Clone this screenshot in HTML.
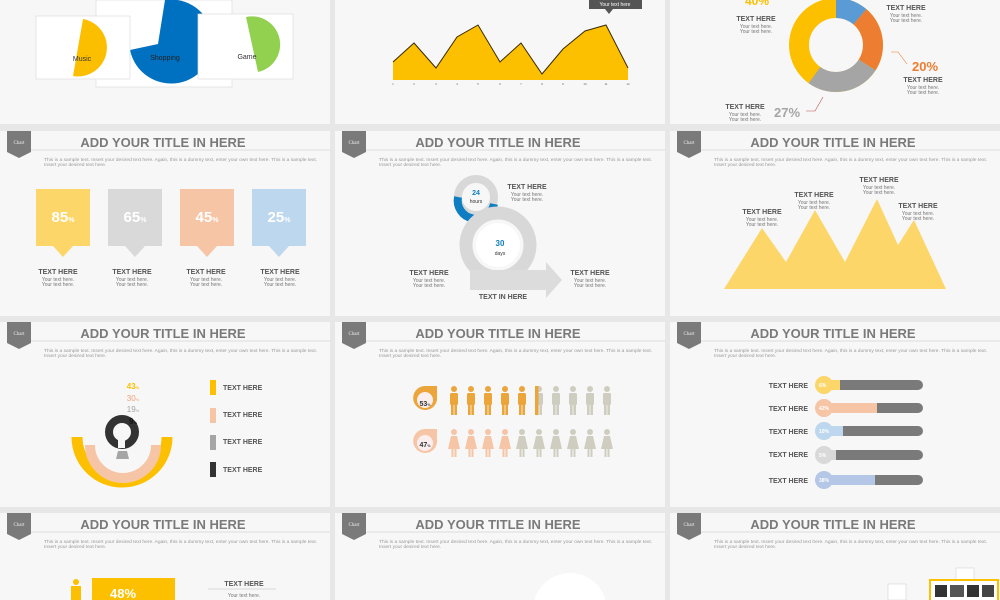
<!DOCTYPE html>
<html><head><meta charset="utf-8"><style>
html,body{margin:0;padding:0;background:#e7e7e7;overflow:hidden;width:1000px;height:600px}
svg{display:block;font-family:"Liberation Sans",sans-serif}
.t{font-size:13px;font-weight:bold;fill:#7a7a7a;text-anchor:middle}
.s{font-size:4.9px;fill:#999}
.h{font-size:7px;font-weight:bold;fill:#555;text-anchor:middle}
.y{font-size:5px;fill:#777;text-anchor:middle}
.b{font-size:5px;fill:#eee;font-family:"Liberation Serif",serif}
</style></head><body>
<svg width="1000" height="600" viewBox="0 0 1000 600">
<defs>
<g id="hdr">
 <rect x="0" y="0" width="330" height="185" fill="#f7f7f7"/>
 <path d="M7 0h24v21l-12 6l-12-6z" fill="#7a7a7a"/>
 <line x1="31" y1="19" x2="330" y2="19" stroke="#d4d4d4" stroke-width="0.8"/>
</g>
<g id="man"><circle cx="0" cy="-11" r="3" /><rect x="-4" y="-7" width="8" height="12" rx="1.5"/><rect x="-3" y="4" width="2.6" height="11"/><rect x="0.4" y="4" width="2.6" height="11"/></g>
<g id="wom"><circle cx="0" cy="-11" r="3"/><path d="M-3-7h6l3 13h-12z"/><rect x="-2.5" y="5" width="2" height="9"/><rect x="0.5" y="5" width="2" height="9"/></g>
</defs>
<rect x="0" y="0" width="330" height="124" fill="#f7f7f7"/>
<rect x="335" y="0" width="330" height="124" fill="#f7f7f7"/>
<rect x="670" y="0" width="330" height="124" fill="#f7f7f7"/>
<rect x="96" y="0" width="136" height="87" fill="#fff" stroke="#ddd" stroke-width="0.7"/>
<path d="M165 0A42 42 0 1 1 130 50L158 44L165 0z" fill="#0070c0"/>
<rect x="36" y="16" width="94" height="63" fill="#fff" stroke="#ddd" stroke-width="0.7"/>
<path d="M83 19A28 28 0 0 1 73 76L83 19z" fill="#fbbf00"/>
<text x="82" y="61" font-size="7" fill="#333" text-anchor="middle">Music</text>
<text x="165" y="60" font-size="7" fill="#222" text-anchor="middle">Shopping</text>
<rect x="198" y="14" width="95" height="65" fill="#fff" stroke="#ddd" stroke-width="0.7"/>
<path d="M246 17A26 26 0 0 1 258 72L246 17z" fill="#92d050"/>
<text x="247" y="59" font-size="7" fill="#333" text-anchor="middle">Game</text>
<polygon points="393,80 393,62 414,43 436,68 457,37 478,25 500,62 521,43 542,74 563,49 585,31 606,25 628,68 628,80" fill="#fdc000"/>
<polyline points="393,62 414,43 436,68 457,37 478,25 500,62 521,43 542,74 563,49 585,31 606,25 628,68" fill="none" stroke="#3a2a00" stroke-width="1"/>
<g font-size="3" fill="#666" text-anchor="middle"><text x="393" y="85">1</text><text x="414" y="85">2</text><text x="436" y="85">3</text><text x="457" y="85">4</text><text x="478" y="85">5</text><text x="500" y="85">6</text><text x="521" y="85">7</text><text x="542" y="85">8</text><text x="563" y="85">9</text><text x="585" y="85">10</text><text x="606" y="85">11</text><text x="628" y="85">12</text></g>
<rect x="589" y="0" width="53" height="9" fill="#555"/><path d="M605 9h8l-4 5z" fill="#555"/>
<text x="615" y="6" font-size="5" fill="#fff" text-anchor="middle">Your text here</text>
<g transform="rotate(-90 836 45)" fill="none" stroke-width="20">
<circle cx="836" cy="45" r="37" stroke="#fdc000"/>
<circle cx="836" cy="45" r="37" stroke="#5b9bd5" stroke-dasharray="26 300"/>
<circle cx="836" cy="45" r="37" stroke="#ed7d31" stroke-dasharray="0 26 53 300"/>
<circle cx="836" cy="45" r="37" stroke="#a5a5a5" stroke-dasharray="0 79 60 300"/>
</g>
<text x="757" y="5" font-size="12" font-weight="bold" fill="#fdc000" text-anchor="middle">40%</text>
<text x="756" y="21" class="h">TEXT HERE</text><text x="756" y="28" class="y">Your text here.</text><text x="756" y="33" class="y">Your text here.</text>
<text x="906" y="10" class="h">TEXT HERE</text><text x="906" y="17" class="y">Your text here.</text><text x="906" y="22" class="y">Your text here.</text>
<polyline points="891,52 898,52 907,64" fill="none" stroke="#ed7d31" stroke-width="0.6"/>
<text x="925" y="71" font-size="13" font-weight="bold" fill="#ed7d31" text-anchor="middle">20%</text>
<text x="923" y="82" class="h">TEXT HERE</text><text x="923" y="89" class="y">Your text here.</text><text x="923" y="94" class="y">Your text here.</text>
<polyline points="806,111 815,111 823,97" fill="none" stroke="#c0504d" stroke-width="0.6"/>
<text x="787" y="117" font-size="13" font-weight="bold" fill="#a5a5a5" text-anchor="middle">27%</text>
<text x="745" y="109" class="h">TEXT HERE</text><text x="745" y="116" class="y">Your text here.</text><text x="745" y="121" class="y">Your text here.</text>

<g transform="translate(0,131)"><use href="#hdr"/></g>
<g transform="translate(335,131)"><use href="#hdr"/></g>
<g transform="translate(670,131)"><use href="#hdr"/></g>
<g transform="translate(0,322)"><use href="#hdr"/></g>
<g transform="translate(335,322)"><use href="#hdr"/></g>
<g transform="translate(670,322)"><use href="#hdr"/></g>
<g transform="translate(0,513)"><use href="#hdr"/></g>
<g transform="translate(335,513)"><use href="#hdr"/></g>
<g transform="translate(670,513)"><use href="#hdr"/></g>

<g>
<text x="19" y="144" class="b" text-anchor="middle">Chart</text>
<text x="163" y="147" class="t">ADD YOUR TITLE IN HERE</text>
<text x="44" y="161" class="s">This is a sample text. Insert your desired text here. Again, this is a dummy text, enter your own text here. This is a sample text.</text>
<text x="44" y="166" class="s">Insert your desired text here.</text>
</g>
<g transform="translate(335,0)">
<text x="19" y="144" class="b" text-anchor="middle">Chart</text>
<text x="163" y="147" class="t">ADD YOUR TITLE IN HERE</text>
<text x="44" y="161" class="s">This is a sample text. Insert your desired text here. Again, this is a dummy text, enter your own text here. This is a sample text.</text>
<text x="44" y="166" class="s">Insert your desired text here.</text>
</g>
<g transform="translate(670,0)">
<text x="19" y="144" class="b" text-anchor="middle">Chart</text>
<text x="163" y="147" class="t">ADD YOUR TITLE IN HERE</text>
<text x="44" y="161" class="s">This is a sample text. Insert your desired text here. Again, this is a dummy text, enter your own text here. This is a sample text.</text>
<text x="44" y="166" class="s">Insert your desired text here.</text>
</g>
<g transform="translate(0,191)">
<text x="19" y="144" class="b" text-anchor="middle">Chart</text>
<text x="163" y="147" class="t">ADD YOUR TITLE IN HERE</text>
<text x="44" y="161" class="s">This is a sample text. Insert your desired text here. Again, this is a dummy text, enter your own text here. This is a sample text.</text>
<text x="44" y="166" class="s">Insert your desired text here.</text>
</g>
<g transform="translate(335,191)">
<text x="19" y="144" class="b" text-anchor="middle">Chart</text>
<text x="163" y="147" class="t">ADD YOUR TITLE IN HERE</text>
<text x="44" y="161" class="s">This is a sample text. Insert your desired text here. Again, this is a dummy text, enter your own text here. This is a sample text.</text>
<text x="44" y="166" class="s">Insert your desired text here.</text>
</g>
<g transform="translate(670,191)">
<text x="19" y="144" class="b" text-anchor="middle">Chart</text>
<text x="163" y="147" class="t">ADD YOUR TITLE IN HERE</text>
<text x="44" y="161" class="s">This is a sample text. Insert your desired text here. Again, this is a dummy text, enter your own text here. This is a sample text.</text>
<text x="44" y="166" class="s">Insert your desired text here.</text>
</g>
<g transform="translate(0,382)">
<text x="19" y="144" class="b" text-anchor="middle">Chart</text>
<text x="163" y="147" class="t">ADD YOUR TITLE IN HERE</text>
<text x="44" y="161" class="s">This is a sample text. Insert your desired text here. Again, this is a dummy text, enter your own text here. This is a sample text.</text>
<text x="44" y="166" class="s">Insert your desired text here.</text>
</g>
<g transform="translate(335,382)">
<text x="19" y="144" class="b" text-anchor="middle">Chart</text>
<text x="163" y="147" class="t">ADD YOUR TITLE IN HERE</text>
<text x="44" y="161" class="s">This is a sample text. Insert your desired text here. Again, this is a dummy text, enter your own text here. This is a sample text.</text>
<text x="44" y="166" class="s">Insert your desired text here.</text>
</g>
<g transform="translate(670,382)">
<text x="19" y="144" class="b" text-anchor="middle">Chart</text>
<text x="163" y="147" class="t">ADD YOUR TITLE IN HERE</text>
<text x="44" y="161" class="s">This is a sample text. Insert your desired text here. Again, this is a dummy text, enter your own text here. This is a sample text.</text>
<text x="44" y="166" class="s">Insert your desired text here.</text>
</g>

<g font-size="15" font-weight="bold" fill="#fff" text-anchor="middle">
<rect x="36" y="189" width="54" height="57" fill="#fdd66a"/><path d="M53 246h20l-10 11z" fill="#fdd66a"/><text x="63" y="222">85<tspan font-size="7">%</tspan></text>
<rect x="108" y="189" width="54" height="57" fill="#d9d9d9"/><path d="M125 246h20l-10 11z" fill="#d9d9d9"/><text x="135" y="222">65<tspan font-size="7">%</tspan></text>
<rect x="180" y="189" width="54" height="57" fill="#f6c5a6"/><path d="M197 246h20l-10 11z" fill="#f6c5a6"/><text x="207" y="222">45<tspan font-size="7">%</tspan></text>
<rect x="252" y="189" width="54" height="57" fill="#bdd7ee"/><path d="M269 246h20l-10 11z" fill="#bdd7ee"/><text x="279" y="222">25<tspan font-size="7">%</tspan></text>
</g>
<text x="58" y="274" class="h">TEXT HERE</text><text x="58" y="281" class="y">Your text here.</text><text x="58" y="286" class="y">Your text here.</text>
<text x="132" y="274" class="h">TEXT HERE</text><text x="132" y="281" class="y">Your text here.</text><text x="132" y="286" class="y">Your text here.</text>
<text x="206" y="274" class="h">TEXT HERE</text><text x="206" y="281" class="y">Your text here.</text><text x="206" y="286" class="y">Your text here.</text>
<text x="280" y="274" class="h">TEXT HERE</text><text x="280" y="281" class="y">Your text here.</text><text x="280" y="286" class="y">Your text here.</text>

<circle cx="476" cy="197" r="18" fill="none" stroke="#d8d8d8" stroke-width="8"/>
<path d="M458 197A18 18 0 0 0 494 204" fill="none" stroke="#0e7dc2" stroke-width="8"/>
<circle cx="498" cy="245" r="32" fill="none" stroke="#d8d8d8" stroke-width="13"/>
<circle cx="498" cy="245" r="22" fill="#fff"/>
<path d="M470 270h76v-8l16 18l-16 18v-8h-76z" fill="#dcdcdc"/>
<text x="476" y="195" font-size="7" font-weight="bold" fill="#0e7dc2" text-anchor="middle">24</text>
<text x="476" y="203" font-size="5" fill="#333" text-anchor="middle">hours</text>
<text x="500" y="246" font-size="8" font-weight="bold" fill="#0e7dc2" text-anchor="middle">30</text>
<text x="500" y="255" font-size="5" fill="#333" text-anchor="middle">days</text>
<text x="527" y="189" class="h">TEXT HERE</text><text x="527" y="196" class="y">Your text here.</text><text x="527" y="201" class="y">Your text here.</text>
<text x="429" y="275" class="h">TEXT HERE</text><text x="429" y="282" class="y">Your text here.</text><text x="429" y="287" class="y">Your text here.</text>
<text x="590" y="275" class="h">TEXT HERE</text><text x="590" y="282" class="y">Your text here.</text><text x="590" y="287" class="y">Your text here.</text>
<text x="503" y="299" class="h">TEXT IN HERE</text>

<polygon points="724,289 762,228 786,262 815,210 845,262 877,199 898,245 914,220 946,289" fill="#fdd66a"/>
<text x="762" y="214" class="h">TEXT HERE</text><text x="762" y="221" class="y">Your text here.</text><text x="762" y="226" class="y">Your text here.</text>
<text x="814" y="197" class="h">TEXT HERE</text><text x="814" y="204" class="y">Your text here.</text><text x="814" y="209" class="y">Your text here.</text>
<text x="879" y="182" class="h">TEXT HERE</text><text x="879" y="189" class="y">Your text here.</text><text x="879" y="194" class="y">Your text here.</text>
<text x="918" y="208" class="h">TEXT HERE</text><text x="918" y="215" class="y">Your text here.</text><text x="918" y="220" class="y">Your text here.</text>

<path d="M77 437A45 45 0 0 0 167 437" fill="none" stroke="#fdc000" stroke-width="11"/>
<path d="M90 445A33 33 0 0 0 156 445" fill="none" stroke="#f6c5a6" stroke-width="10"/>
<path d="M116 459h13l-2-8h-9z" fill="#a5a5a5"/>
<circle cx="122" cy="432" r="13" fill="none" stroke="#333" stroke-width="8"/>
<rect x="118" y="440" width="7" height="8" fill="#f7f7f7"/>
<text x="133" y="389" font-size="8" font-weight="bold" fill="#fdc000" text-anchor="middle">43<tspan font-size="4">%</tspan></text>
<text x="133" y="401" font-size="8" fill="#f2a37a" text-anchor="middle">30<tspan font-size="4">%</tspan></text>
<text x="133" y="412" font-size="8" fill="#a5a5a5" text-anchor="middle">19<tspan font-size="4">%</tspan></text>
<text x="133" y="424" font-size="8" font-weight="bold" fill="#111" text-anchor="middle">9<tspan font-size="4">%</tspan></text>
<rect x="210" y="380" width="6" height="15" fill="#fdc000"/><text x="223" y="390" font-size="7" font-weight="bold" fill="#555">TEXT HERE</text>
<rect x="210" y="408" width="6" height="15" fill="#f6c5a6"/><text x="223" y="417" font-size="7" font-weight="bold" fill="#555">TEXT HERE</text>
<rect x="210" y="435" width="6" height="15" fill="#a5a5a5"/><text x="223" y="444" font-size="7" font-weight="bold" fill="#555">TEXT HERE</text>
<rect x="210" y="462" width="6" height="15" fill="#333"/><text x="223" y="472" font-size="7" font-weight="bold" fill="#555">TEXT HERE</text>

<path d="M437 386v14a12 12 0 1 1-12-14z" fill="#eba53a"/><circle cx="425" cy="400" r="8" fill="#fbeeee"/>
<text x="425" y="406" font-size="7" font-weight="bold" fill="#333" text-anchor="middle">53<tspan font-size="3.5">%</tspan></text>
<path d="M437 429v14a12 12 0 1 1-12-14z" fill="#f6c5a6"/><circle cx="425" cy="443" r="8" fill="#fbeeee"/>
<text x="425" y="447" font-size="7" font-weight="bold" fill="#333" text-anchor="middle">47<tspan font-size="3.5">%</tspan></text>
<g fill="#eba53a"><use href="#man" x="454" y="400"/><use href="#man" x="471" y="400"/><use href="#man" x="488" y="400"/><use href="#man" x="505" y="400"/><use href="#man" x="522" y="400"/></g>
<g fill="#cfcdbf"><use href="#man" x="539" y="400"/><use href="#man" x="556" y="400"/><use href="#man" x="573" y="400"/><use href="#man" x="590" y="400"/><use href="#man" x="607" y="400"/></g>
<rect x="535" y="386" width="3.5" height="29" fill="#eba53a"/>
<g fill="#f6c5a6"><use href="#wom" x="454" y="443"/><use href="#wom" x="471" y="443"/><use href="#wom" x="488" y="443"/><use href="#wom" x="505" y="443"/></g>
<g fill="#cfcdbf"><use href="#wom" x="522" y="443"/><use href="#wom" x="539" y="443"/><use href="#wom" x="556" y="443"/><use href="#wom" x="573" y="443"/><use href="#wom" x="590" y="443"/><use href="#wom" x="607" y="443"/></g>

<g stroke-linecap="round" stroke-width="10">
<line x1="825" y1="385" x2="918" y2="385" stroke="#7a7a7a"/><line x1="825" y1="385" x2="840" y2="385" stroke="#fdd66a" stroke-linecap="butt"/>
<line x1="825" y1="408" x2="918" y2="408" stroke="#7a7a7a"/><line x1="825" y1="408" x2="877" y2="408" stroke="#f6c5a6" stroke-linecap="butt"/>
<line x1="825" y1="431" x2="918" y2="431" stroke="#7a7a7a"/><line x1="825" y1="431" x2="843" y2="431" stroke="#bdd7ee" stroke-linecap="butt"/>
<line x1="825" y1="455" x2="918" y2="455" stroke="#7a7a7a"/><line x1="825" y1="455" x2="836" y2="455" stroke="#d9d9d9" stroke-linecap="butt"/>
<line x1="825" y1="480" x2="918" y2="480" stroke="#7a7a7a"/><line x1="825" y1="480" x2="875" y2="480" stroke="#b4c7e7" stroke-linecap="butt"/>
</g>
<circle cx="824" cy="385" r="9" fill="#fdd66a"/><circle cx="824" cy="408" r="9" fill="#f6c5a6"/><circle cx="824" cy="431" r="9" fill="#bdd7ee"/><circle cx="824" cy="455" r="9" fill="#d9d9d9"/><circle cx="824" cy="480" r="9" fill="#b4c7e7"/>
<g font-size="5" font-weight="bold" fill="#fff"><text x="819" y="387">6%</text><text x="819" y="410">42%</text><text x="819" y="433">10%</text><text x="819" y="457">5%</text><text x="819" y="482">38%</text></g>
<g font-size="7" font-weight="bold" fill="#555" text-anchor="end"><text x="808" y="388">TEXT HERE</text><text x="808" y="411">TEXT HERE</text><text x="808" y="434">TEXT HERE</text><text x="808" y="457">TEXT HERE</text><text x="808" y="483">TEXT HERE</text></g>

<circle cx="76" cy="582" r="3" fill="#fdc000"/><rect x="71" y="586" width="10" height="14" fill="#fdc000"/>
<rect x="92" y="578" width="83" height="22" fill="#fdc000"/>
<text x="123" y="598" font-size="13" font-weight="bold" fill="#fff" text-anchor="middle">48%</text>
<text x="244" y="586" class="h">TEXT HERE</text><line x1="208" y1="589" x2="276" y2="589" stroke="#bbb" stroke-width="0.6"/>
<text x="244" y="597" class="y">Your text here.</text>
<circle cx="570" cy="610" r="37" fill="#fff"/>
<rect x="888" y="584" width="18" height="16" fill="#fff" stroke="#ccc" stroke-width="0.5"/>
<rect x="956" y="568" width="18" height="14" fill="#fff" stroke="#ccc" stroke-width="0.5"/>
<rect x="930" y="580" width="68" height="22" fill="#fff" stroke="#fdc000" stroke-width="2"/>
<rect x="935" y="585" width="12" height="12" fill="#333"/><rect x="950" y="585" width="14" height="12" fill="#555"/><rect x="967" y="585" width="12" height="12" fill="#333"/><rect x="982" y="585" width="12" height="12" fill="#444"/>
</svg>
</body></html>
